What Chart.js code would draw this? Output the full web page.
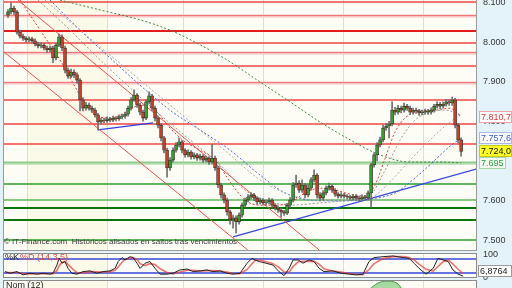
<!DOCTYPE html>
<html>
<head>
<meta charset="utf-8">
<script src="https://cdn.jsdelivr.net/npm/chart.js@4.4.1/dist/chart.umd.min.js"></script>
<style>
	body { margin: 0; background: #e4f3fa; width: 512px; height: 288px; overflow: hidden; position: relative; }
	canvas { position: absolute; left: 0; }
</style>
</head>
<body>
<canvas id="chart_main" width="512" height="251" style="top:0px"></canvas>
<canvas id="chart_stoch" width="512" height="30" style="top:250px"></canvas>
<canvas id="chart_nom" width="512" height="10" style="top:278px"></canvas>
<script>
//Candles (one per session)
const priceOpen = [
	8.068,8.076,8.086,8.076,8.025,8.015,8.010,8.005,8.008,8.003,
	7.995,7.990,7.992,7.985,7.980,7.985,7.960,7.992,8.013,7.985,
	7.929,7.914,7.924,7.917,7.904,7.854,7.833,7.841,7.833,7.828,
	7.816,7.798,7.803,7.801,7.806,7.803,7.808,7.806,7.811,7.813,
	7.818,7.833,7.854,7.866,7.841,7.823,7.808,7.849,7.864,7.833,
	7.808,7.790,7.758,7.727,7.682,7.702,7.727,7.740,7.748,7.727,
	7.715,7.722,7.710,7.715,7.707,7.712,7.702,7.707,7.697,7.707,
	7.682,7.639,7.614,7.601,7.571,7.551,7.556,7.546,7.563,7.588,
	7.601,7.609,7.614,7.606,7.596,7.601,7.594,7.596,7.601,7.588,
	7.581,7.576,7.571,7.568,7.588,7.601,7.639,7.644,7.626,7.639,
	7.614,7.631,7.652,7.664,7.614,7.606,7.619,7.631,7.636,7.626,
	7.616,7.611,7.614,7.611,7.609,7.606,7.611,7.606,7.604,7.609,
	7.606,7.619,7.690,7.715,7.740,7.753,7.783,7.788,7.793,7.828,
	7.823,7.833,7.828,7.838,7.833,7.823,7.828,7.826,7.821,7.823,
	7.826,7.823,7.828,7.838,7.843,7.838,7.843,7.849,7.846,7.854,
	7.790,7.753];
const priceClose = [
	8.076,8.086,8.076,8.025,8.015,8.010,8.005,8.008,8.003,7.995,
	7.990,7.992,7.985,7.980,7.985,7.960,7.992,8.013,7.985,7.929,
	7.914,7.924,7.917,7.904,7.854,7.833,7.841,7.833,7.828,7.816,
	7.798,7.803,7.801,7.806,7.803,7.808,7.806,7.811,7.813,7.818,
	7.833,7.854,7.866,7.841,7.823,7.808,7.849,7.864,7.833,7.808,
	7.790,7.758,7.727,7.682,7.702,7.727,7.740,7.748,7.727,7.715,
	7.722,7.710,7.715,7.707,7.712,7.702,7.707,7.697,7.707,7.682,
	7.639,7.614,7.601,7.571,7.551,7.556,7.546,7.563,7.588,7.601,
	7.609,7.614,7.606,7.596,7.601,7.594,7.596,7.601,7.588,7.581,
	7.576,7.571,7.568,7.588,7.601,7.639,7.644,7.626,7.639,7.614,
	7.631,7.652,7.664,7.614,7.606,7.619,7.631,7.636,7.626,7.616,
	7.611,7.614,7.611,7.609,7.606,7.611,7.606,7.604,7.609,7.606,
	7.619,7.690,7.715,7.740,7.753,7.783,7.788,7.793,7.828,7.823,
	7.833,7.828,7.838,7.833,7.823,7.828,7.826,7.821,7.823,7.826,
	7.823,7.828,7.838,7.843,7.838,7.843,7.849,7.846,7.854,7.790,
	7.753,7.724];
const priceHigh = [
	8.082,8.099,8.091,8.080,8.030,8.020,8.014,8.013,8.012,8.008,
	8.000,7.998,7.997,7.990,7.990,7.990,7.997,8.020,8.018,7.990,
	7.935,7.932,7.930,7.922,7.908,7.860,7.848,7.846,7.838,7.833,
	7.820,7.808,7.808,7.811,7.810,7.813,7.812,7.816,7.818,7.823,
	7.838,7.860,7.879,7.870,7.846,7.828,7.854,7.874,7.868,7.838,
	7.813,7.795,7.762,7.732,7.708,7.733,7.746,7.758,7.752,7.731,
	7.728,7.726,7.720,7.719,7.717,7.716,7.712,7.711,7.742,7.712,
	7.686,7.644,7.619,7.606,7.576,7.563,7.561,7.569,7.594,7.606,
	7.615,7.620,7.618,7.610,7.606,7.605,7.601,7.606,7.605,7.592,
	7.585,7.580,7.575,7.593,7.607,7.645,7.664,7.650,7.652,7.643,
	7.640,7.658,7.677,7.668,7.620,7.625,7.637,7.644,7.640,7.630,
	7.620,7.619,7.618,7.615,7.613,7.615,7.615,7.611,7.614,7.613,
	7.624,7.694,7.720,7.746,7.760,7.790,7.795,7.800,7.849,7.835,
	7.840,7.838,7.846,7.843,7.838,7.833,7.833,7.830,7.828,7.831,
	7.830,7.834,7.843,7.849,7.848,7.849,7.855,7.854,7.861,7.858,
	7.795,7.758];
const priceLow = [
	8.062,8.071,8.070,8.020,8.010,8.004,7.999,8.000,7.998,7.990,
	7.985,7.985,7.980,7.974,7.975,7.948,7.955,7.988,7.978,7.922,
	7.908,7.910,7.910,7.896,7.826,7.826,7.828,7.828,7.822,7.810,
	7.778,7.793,7.796,7.797,7.798,7.799,7.801,7.802,7.806,7.808,
	7.813,7.828,7.850,7.835,7.816,7.800,7.804,7.844,7.826,7.801,
	7.783,7.750,7.720,7.659,7.676,7.697,7.722,7.735,7.720,7.709,
	7.710,7.704,7.705,7.701,7.702,7.696,7.697,7.691,7.692,7.676,
	7.632,7.606,7.594,7.563,7.540,7.530,7.518,7.540,7.558,7.583,
	7.596,7.604,7.600,7.590,7.591,7.589,7.589,7.591,7.583,7.576,
	7.570,7.558,7.562,7.564,7.583,7.596,7.633,7.620,7.620,7.607,
	7.609,7.626,7.647,7.606,7.599,7.601,7.614,7.626,7.620,7.610,
	7.606,7.606,7.606,7.604,7.601,7.601,7.601,7.599,7.599,7.601,
	7.601,7.583,7.684,7.700,7.735,7.748,7.777,7.758,7.788,7.816,
	7.818,7.821,7.823,7.827,7.817,7.818,7.820,7.815,7.816,7.818,
	7.817,7.818,7.823,7.833,7.832,7.833,7.838,7.840,7.840,7.783,
	7.745,7.712];

//Right axis ticks and vertical session grid
const priceTicks = [7.5, 7.6, 7.7, 7.8, 7.9, 8.0, 8.1];
const gridX = [6.3, 33, 58.3, 85, 111.7, 138.3];

//Horizontal support / resistance levels
const redLevels = [8.101, 7.997, 7.939, 7.854, 7.793, 7.742];
const redLevelsLight = [8.066, 7.972, 7.896];
const redLevelsThick = [8.028];
const greenLevels = [7.641, 7.500];
const greenLevelsPale = [7.601];
const greenLevelsDark = [7.581, 7.551];
const greenLevelsLight = [7.694];

//Moving averages (session index, price)
const maShortX = [4, 10.7, 17.3, 24, 29, 34, 39, 44, 49, 54, 59, 64, 69, 74, 79, 84, 89, 94, 99, 104, 109, 114, 119, 122.3, 125.7, 129, 132.3, 137.3, 142.3, 147.3, 151];
const maShortY = [8.106, 8.030, 7.955, 7.866, 7.816, 7.808, 7.821, 7.841, 7.828, 7.783, 7.748, 7.727, 7.702, 7.647, 7.601, 7.588, 7.588, 7.594, 7.619, 7.631, 7.626, 7.616, 7.611, 7.639, 7.707, 7.773, 7.808, 7.826, 7.828, 7.833, 7.8107];
const maMidX = [10, 20.7, 30.7, 40.7, 50.7, 60.7, 70.7, 79, 85.7, 94, 104, 114, 120.7, 125.7, 130.7, 135.7, 140.7, 145.7, 151];
const maMidY = [8.106, 8.030, 7.955, 7.884, 7.816, 7.753, 7.690, 7.626, 7.601, 7.588, 7.594, 7.601, 7.614, 7.677, 7.753, 7.803, 7.823, 7.828, 7.816];
const maMid2X = [12.3, 24, 34, 44, 54, 64, 74, 84, 94, 104, 114, 120.7, 127.3, 134, 140.7, 147.3, 151];
const maMid2Y = [8.106, 8.030, 7.967, 7.904, 7.841, 7.778, 7.715, 7.652, 7.614, 7.601, 7.601, 7.606, 7.647, 7.702, 7.753, 7.798, 7.816];
const maLongX = [14, 24, 34, 44, 54, 64, 74, 84, 92.3, 100.7, 110.7, 120.7, 129, 135.7, 142.3, 147.3, 151];
const maLongY = [8.106, 8.030, 7.960, 7.891, 7.828, 7.778, 7.727, 7.664, 7.619, 7.601, 7.599, 7.604, 7.619, 7.657, 7.702, 7.737, 7.7576];
const maSlowX = [17.3, 30.7, 44, 54, 64, 74, 84, 94, 104, 114, 124, 134, 144, 151];
const maSlowY = [8.106, 8.081, 8.056, 8.030, 7.993, 7.950, 7.899, 7.849, 7.798, 7.753, 7.715, 7.697, 7.697, 7.695];

//Trend lines
const trendUpperX = [3.3, 103.7];
const trendUpperY = [8.106, 7.475];
const trendLowerX = [-1.67, 79.9];
const trendLowerY = [7.977, 7.475];
const trendBlueShortX = [30, 48.3];
const trendBlueShortY = [7.778, 7.796];
const trendBlueLongX = [75, 156.3];
const trendBlueLongY = [7.508, 7.680];

//Last values shown on the right axis
const lastValues = [7.8107, 7.7576, 7.724, 7.695];
const lastTexts = ['7.810,7', '7.757,6', '7.724,0', '7.695'];

//Stochastic %K %D (14,3,5)
const stochX = [-1, 0.7, 3, 5, 7.3, 9.7, 11.7, 14, 15, 16.3, 17, 18, 19, 20, 21.3, 23, 25, 27.3, 29.7, 31.7, 34, 35.7, 36.7, 38, 39, 40.7, 41.7, 43, 44, 45.7, 47.3, 49, 50.7, 53, 55, 57.3, 59.7, 61.7, 64, 66.3, 68.3, 70.7, 73, 75, 77.3, 79.7, 81.3, 82.3, 83.7, 86, 88.3, 90.3, 92, 93.7, 95, 96.7, 98.3, 100.3, 102, 103.7, 105.3, 108.3, 111, 113.7, 116, 118.3, 120.3, 122, 125, 128.3, 131.7, 133.7, 135.3, 137, 139.3, 141.7, 143.3, 145, 146.7, 148.3, 150, 151.7];
const stochK = [26, 19, 26, 12, 19, 15, 19, 15, 19, 54, 83, 62, 69, 40, 19, 15, 26, 29, 19, 26, 29, 40, 69, 86, 76, 90, 86, 62, 40, 62, 69, 40, 15, 15, 19, 33, 37, 26, 29, 33, 26, 29, 19, 15, 19, 62, 83, 76, 69, 62, 54, 26, 9, 40, 76, 76, 62, 76, 69, 40, 26, 29, 19, 15, 12, 15, 69, 86, 90, 93, 86, 83, 62, 40, 15, 40, 83, 76, 69, 33, 15, 6.9];
const stochD = [22, 22, 22, 18, 16, 17, 17, 17, 17, 30, 50, 66, 70, 57, 40, 22, 20, 26, 25, 24, 26, 32, 46, 66, 78, 84, 86, 78, 60, 52, 60, 56, 38, 22, 16, 24, 32, 32, 28, 30, 30, 28, 24, 18, 17, 35, 60, 74, 76, 68, 60, 44, 24, 24, 48, 68, 70, 70, 70, 58, 38, 28, 24, 18, 14, 13, 35, 60, 82, 90, 90, 86, 76, 58, 36, 28, 48, 68, 76, 58, 36, 18];
const stochLevels = [20, 80];
const stochTicks = [0, 50, 100];
const stochLast = 6.8764;

//Nom (12)
const nomX = [121, 122.5, 124, 125.5, 127, 128.5, 130, 131];
const nomV = [0, 4, 6.5, 7.6, 7.8, 7, 4.5, 0];

Chart.defaults.font.family = "'Liberation Sans', Arial, sans-serif";
Chart.defaults.font.size = 9;
Chart.defaults.color = '#333';

const xAxis = { type: 'linear', min: -1.67, max: 156.3, display: false, offset: false };

function fmtPrice(v) {
	return v.toFixed(3);
}

//right axis with a fixed width and no extra room for the edge labels
function fixRightAxis(s) {
	s.width = 35;
	s.paddingTop = 0;
	s.paddingBottom = 0;
}

function line(ctx, x0, y0, x1, y1, color, width) {
	ctx.strokeStyle = color;
	ctx.lineWidth = width;
	ctx.beginPath();
	ctx.moveTo(x0, y0);
	ctx.lineTo(x1, y1);
	ctx.stroke();
}

function drawPanelBg(chart) {
	const ctx = chart.ctx, a = chart.chartArea, sx = chart.scales.x;
	ctx.save();
	ctx.fillStyle = '#fdfdf5';
	ctx.fillRect(a.left, a.top, a.right - a.left, a.bottom - a.top);
	const b0 = sx.getPixelForValue(gridX[0]), b1 = sx.getPixelForValue(gridX[1]);
	ctx.fillStyle = '#fbf9e8';
	ctx.fillRect(b0, a.top, b1 - b0, a.bottom - a.top);
	gridX.forEach(v => {
		const x = Math.round(sx.getPixelForValue(v)) + 0.5;
		line(ctx, x, a.top, x, a.bottom, '#e0ddd2', 1);
	});
	ctx.restore();
}

function drawBox(ctx, text, x, y, w, fg, bg, bd) {
	ctx.fillStyle = bg;
	ctx.fillRect(x, y - 6, w, 12);
	ctx.strokeStyle = bd;
	ctx.lineWidth = 1;
	ctx.strokeRect(x + 0.5, y - 5.5, w - 1, 11);
	ctx.fillStyle = fg;
	ctx.textBaseline = 'middle';
	ctx.textAlign = 'left';
	ctx.fillText(text, x + 2, y + 0.5);
}

const mainPlugin = {
	id: 'mainPlugin',
	beforeDraw(chart) {
		drawPanelBg(chart);
	},
	beforeDatasetsDraw(chart) {
		const ctx = chart.ctx, a = chart.chartArea, sy = chart.scales.y;
		ctx.save();
		const y = v => Math.round(sy.getPixelForValue(v));
		redLevelsLight.forEach(v => {
			line(ctx, a.left, y(v), a.right, y(v), '#f6c4c4', 3);
			line(ctx, a.left, y(v) - 0.5, a.right, y(v) - 0.5, '#f07878', 1);
		});
		redLevels.forEach(v => line(ctx, a.left, y(v), a.right, y(v), '#ef4545', 1.5));
		redLevelsThick.forEach(v => line(ctx, a.left, y(v), a.right, y(v), '#e41c1c', 2.2));
		greenLevelsLight.forEach(v => {
			line(ctx, a.left, y(v), a.right, y(v), '#b4dcb0', 3.5);
			line(ctx, a.left, y(v) - 0.5, a.right, y(v) - 0.5, '#8ccc88', 1);
		});
		greenLevels.forEach(v => line(ctx, a.left, y(v), a.right, y(v), '#2a9e2a', 1.5));
		greenLevelsPale.forEach(v => line(ctx, a.left, y(v), a.right, y(v), '#5cb85a', 1.5));
		greenLevelsDark.forEach(v => line(ctx, a.left, y(v), a.right, y(v), '#0b740b', 2.2));
		ctx.restore();
	},
	afterDraw(chart) {
		const ctx = chart.ctx, a = chart.chartArea, sy = chart.scales.y;
		ctx.save();
		ctx.strokeStyle = '#9a9a9a';
		ctx.lineWidth = 1;
		ctx.strokeRect(a.left + 0.5, a.top - 0.5, a.right - a.left - 1, a.bottom - a.top + 1);
		ctx.font = "8px 'Liberation Sans', Arial, sans-serif";
		ctx.fillStyle = '#3a3a3a';
		ctx.textBaseline = 'middle';
		ctx.fillText('\u00a9 IT-Finance.com  Históricos alisados en saltos tras vencimientos', a.left + 1, a.bottom - 8);
		ctx.font = "9px 'Liberation Sans', Arial, sans-serif";
		const styles = [
			['#e23636', '#ffffff', '#f2a2a2', 33],
			['#3a58d8', '#ffffff', '#aab8ee', 33],
			['#111111', '#ffff22', '#c8c81e', 33],
			['#2d9a46', '#f2faf0', '#a8d6a6', 27]
		];
		lastValues.forEach((v, i) => {
			const s = styles[i];
			drawBox(ctx, lastTexts[i], a.right + 2, Math.round(sy.getPixelForValue(v)), s[3], s[0], s[1], s[2]);
		});
		ctx.restore();
	}
};

const candleColors = priceClose.map((c, i) => c >= priceOpen[i] ? '#2ea32e' : '#c8402a');

new Chart(document.getElementById('chart_main'), {
	type: 'bar',
	data: {
		datasets: [
			{
				label: 'Body',
				data: priceClose.map((c, i) => ({ x: i, y: [priceOpen[i], c] })),
				backgroundColor: candleColors,
				borderColor: '#3b2e26',
				borderWidth: 0.8,
				borderSkipped: false,
				barThickness: 3,
				grouped: false,
				order: 0
			},
			{
				label: 'Wick',
				data: priceClose.map((c, i) => ({ x: i, y: [priceLow[i], priceHigh[i]] })),
				backgroundColor: '#6e6e6e',
				barThickness: 1,
				grouped: false,
				order: 1
			},
			{ type: 'line', data: maShortX.map((x, i) => ({ x: x, y: maShortY[i] })), borderColor: '#e63a3a', borderDash: [2, 2], borderWidth: 1, pointRadius: 0, cubicInterpolationMode: 'monotone', order: 2 },
			{ type: 'line', data: maMidX.map((x, i) => ({ x: x, y: maMidY[i] })), borderColor: '#9a9a9a', borderDash: [2, 2], borderWidth: 1, pointRadius: 0, cubicInterpolationMode: 'monotone', order: 3 },
			{ type: 'line', data: maMid2X.map((x, i) => ({ x: x, y: maMid2Y[i] })), borderColor: '#ababab', borderDash: [2, 2], borderWidth: 1, pointRadius: 0, cubicInterpolationMode: 'monotone', order: 4 },
			{ type: 'line', data: maLongX.map((x, i) => ({ x: x, y: maLongY[i] })), borderColor: '#4a62ea', borderDash: [2, 2], borderWidth: 1, pointRadius: 0, cubicInterpolationMode: 'monotone', order: 5 },
			{ type: 'line', data: maSlowX.map((x, i) => ({ x: x, y: maSlowY[i] })), borderColor: '#3d8a3d', borderDash: [2, 2], borderWidth: 1, pointRadius: 0, cubicInterpolationMode: 'monotone', order: 6 },
			{ type: 'line', data: trendUpperX.map((x, i) => ({ x: x, y: trendUpperY[i] })), borderColor: '#f05050', borderWidth: 1, pointRadius: 0, order: 7 },
			{ type: 'line', data: trendLowerX.map((x, i) => ({ x: x, y: trendLowerY[i] })), borderColor: '#f05050', borderWidth: 1, pointRadius: 0, order: 8 },
			{ type: 'line', data: trendBlueShortX.map((x, i) => ({ x: x, y: trendBlueShortY[i] })), borderColor: '#3040e0', borderWidth: 1.3, pointRadius: 0, order: 9 },
			{ type: 'line', data: trendBlueLongX.map((x, i) => ({ x: x, y: trendBlueLongY[i] })), borderColor: '#3848e0', borderWidth: 1.3, pointRadius: 0, order: 10 }
		]
	},
	options: {
		responsive: false,
		animation: false,
		layout: { autoPadding: false, padding: { left: 3, right: 0, top: 0, bottom: 1 } },
		plugins: { legend: { display: false }, tooltip: { enabled: false } },
		scales: {
			x: xAxis,
			y: {
				position: 'right',
				min: 7.4749,
				max: 8.1061,
				grid: { display: false, drawTicks: false },
				border: { display: false },
				ticks: { padding: 6, color: '#333', callback: v => fmtPrice(v) },
				afterBuildTicks: s => { s.ticks = priceTicks.map(v => ({ value: v })); },
				afterFit: fixRightAxis
			}
		}
	},
	plugins: [mainPlugin]
});

const stochPlugin = {
	id: 'stochPlugin',
	beforeDraw(chart) {
		drawPanelBg(chart);
	},
	beforeDatasetsDraw(chart) {
		const ctx = chart.ctx, a = chart.chartArea, sy = chart.scales.y;
		ctx.save();
		stochLevels.forEach(v => {
			const y = Math.round(sy.getPixelForValue(v));
			line(ctx, a.left, y, a.right, y, '#3446dc', 1.5);
		});
		ctx.restore();
	},
	afterDraw(chart) {
		const ctx = chart.ctx, a = chart.chartArea, sy = chart.scales.y;
		ctx.save();
		ctx.strokeStyle = '#8a8a8a';
		ctx.lineWidth = 1;
		ctx.strokeRect(a.left + 0.5, a.top + 0.5, a.right - a.left - 1, a.bottom - a.top - 1);
		ctx.font = "9px 'Liberation Sans', Arial, sans-serif";
		ctx.textBaseline = 'middle';
		ctx.fillStyle = '#222';
		ctx.fillText('%K', a.left + 2, a.top + 5);
		ctx.fillStyle = '#e24a4a';
		ctx.fillText('%D (14,3,5)', a.left + 17, a.top + 5);
		const y = Math.min(Math.round(sy.getPixelForValue(stochLast)), a.bottom - 7);
		drawBox(ctx, stochLast.toFixed(4).replace('.', ','), a.right + 1, y, 34, '#222', '#ffffff', '#9a9a9a');
		ctx.restore();
	}
};

new Chart(document.getElementById('chart_stoch'), {
	type: 'line',
	data: {
		datasets: [
			{ data: stochX.map((x, i) => ({ x: x, y: stochK[i] })), borderColor: '#222', borderWidth: 1, pointRadius: 0, order: 0 },
			{ data: stochX.map((x, i) => ({ x: x, y: stochD[i] })), borderColor: 'rgba(232,70,70,0.75)', borderWidth: 1.6, pointRadius: 0, order: 1 }
		]
	},
	options: {
		responsive: false,
		animation: false,
		layout: { autoPadding: false, padding: { left: 3, right: 0, top: 3, bottom: 2 } },
		plugins: { legend: { display: false }, tooltip: { enabled: false } },
		scales: {
			x: xAxis,
			y: {
				position: 'right',
				min: -1.4,
				max: 105.7,
				grid: { display: false, drawTicks: false },
				border: { display: false },
				ticks: { padding: 6, color: '#333' },
				afterBuildTicks: s => { s.ticks = stochTicks.map(v => ({ value: v })); },
				afterFit: fixRightAxis
			}
		}
	},
	plugins: [stochPlugin]
});

const nomPlugin = {
	id: 'nomPlugin',
	beforeDraw(chart) {
		drawPanelBg(chart);
	},
	afterDraw(chart) {
		const ctx = chart.ctx, a = chart.chartArea;
		ctx.save();
		line(ctx, a.left, a.top + 0.5, a.right, a.top + 0.5, '#8a8a8a', 1);
		line(ctx, a.left + 0.5, a.top, a.left + 0.5, a.bottom, '#8a8a8a', 1);
		line(ctx, a.right - 0.5, a.top, a.right - 0.5, a.bottom, '#8a8a8a', 1);
		ctx.font = "9px 'Liberation Sans', Arial, sans-serif";
		ctx.textBaseline = 'middle';
		ctx.fillStyle = '#222';
		ctx.fillText('Nom (12)', a.left + 3, a.top + 6);
		ctx.restore();
	}
};

new Chart(document.getElementById('chart_nom'), {
	type: 'line',
	data: {
		datasets: [{
			data: nomX.map((x, i) => ({ x: x, y: nomV[i] })),
			borderColor: '#3f9a3f',
			backgroundColor: '#a8d8a2',
			borderWidth: 1,
			fill: 'origin',
			pointRadius: 0,
			tension: 0.4
		}]
	},
	options: {
		responsive: false,
		animation: false,
		layout: { autoPadding: false, padding: { left: 3, right: 35, top: 2, bottom: 0 } },
		plugins: { legend: { display: false }, tooltip: { enabled: false } },
		scales: {
			x: xAxis,
			y: { min: 0, max: 9, display: false }
		}
	},
	plugins: [nomPlugin]
});
</script>
</body>
</html>
